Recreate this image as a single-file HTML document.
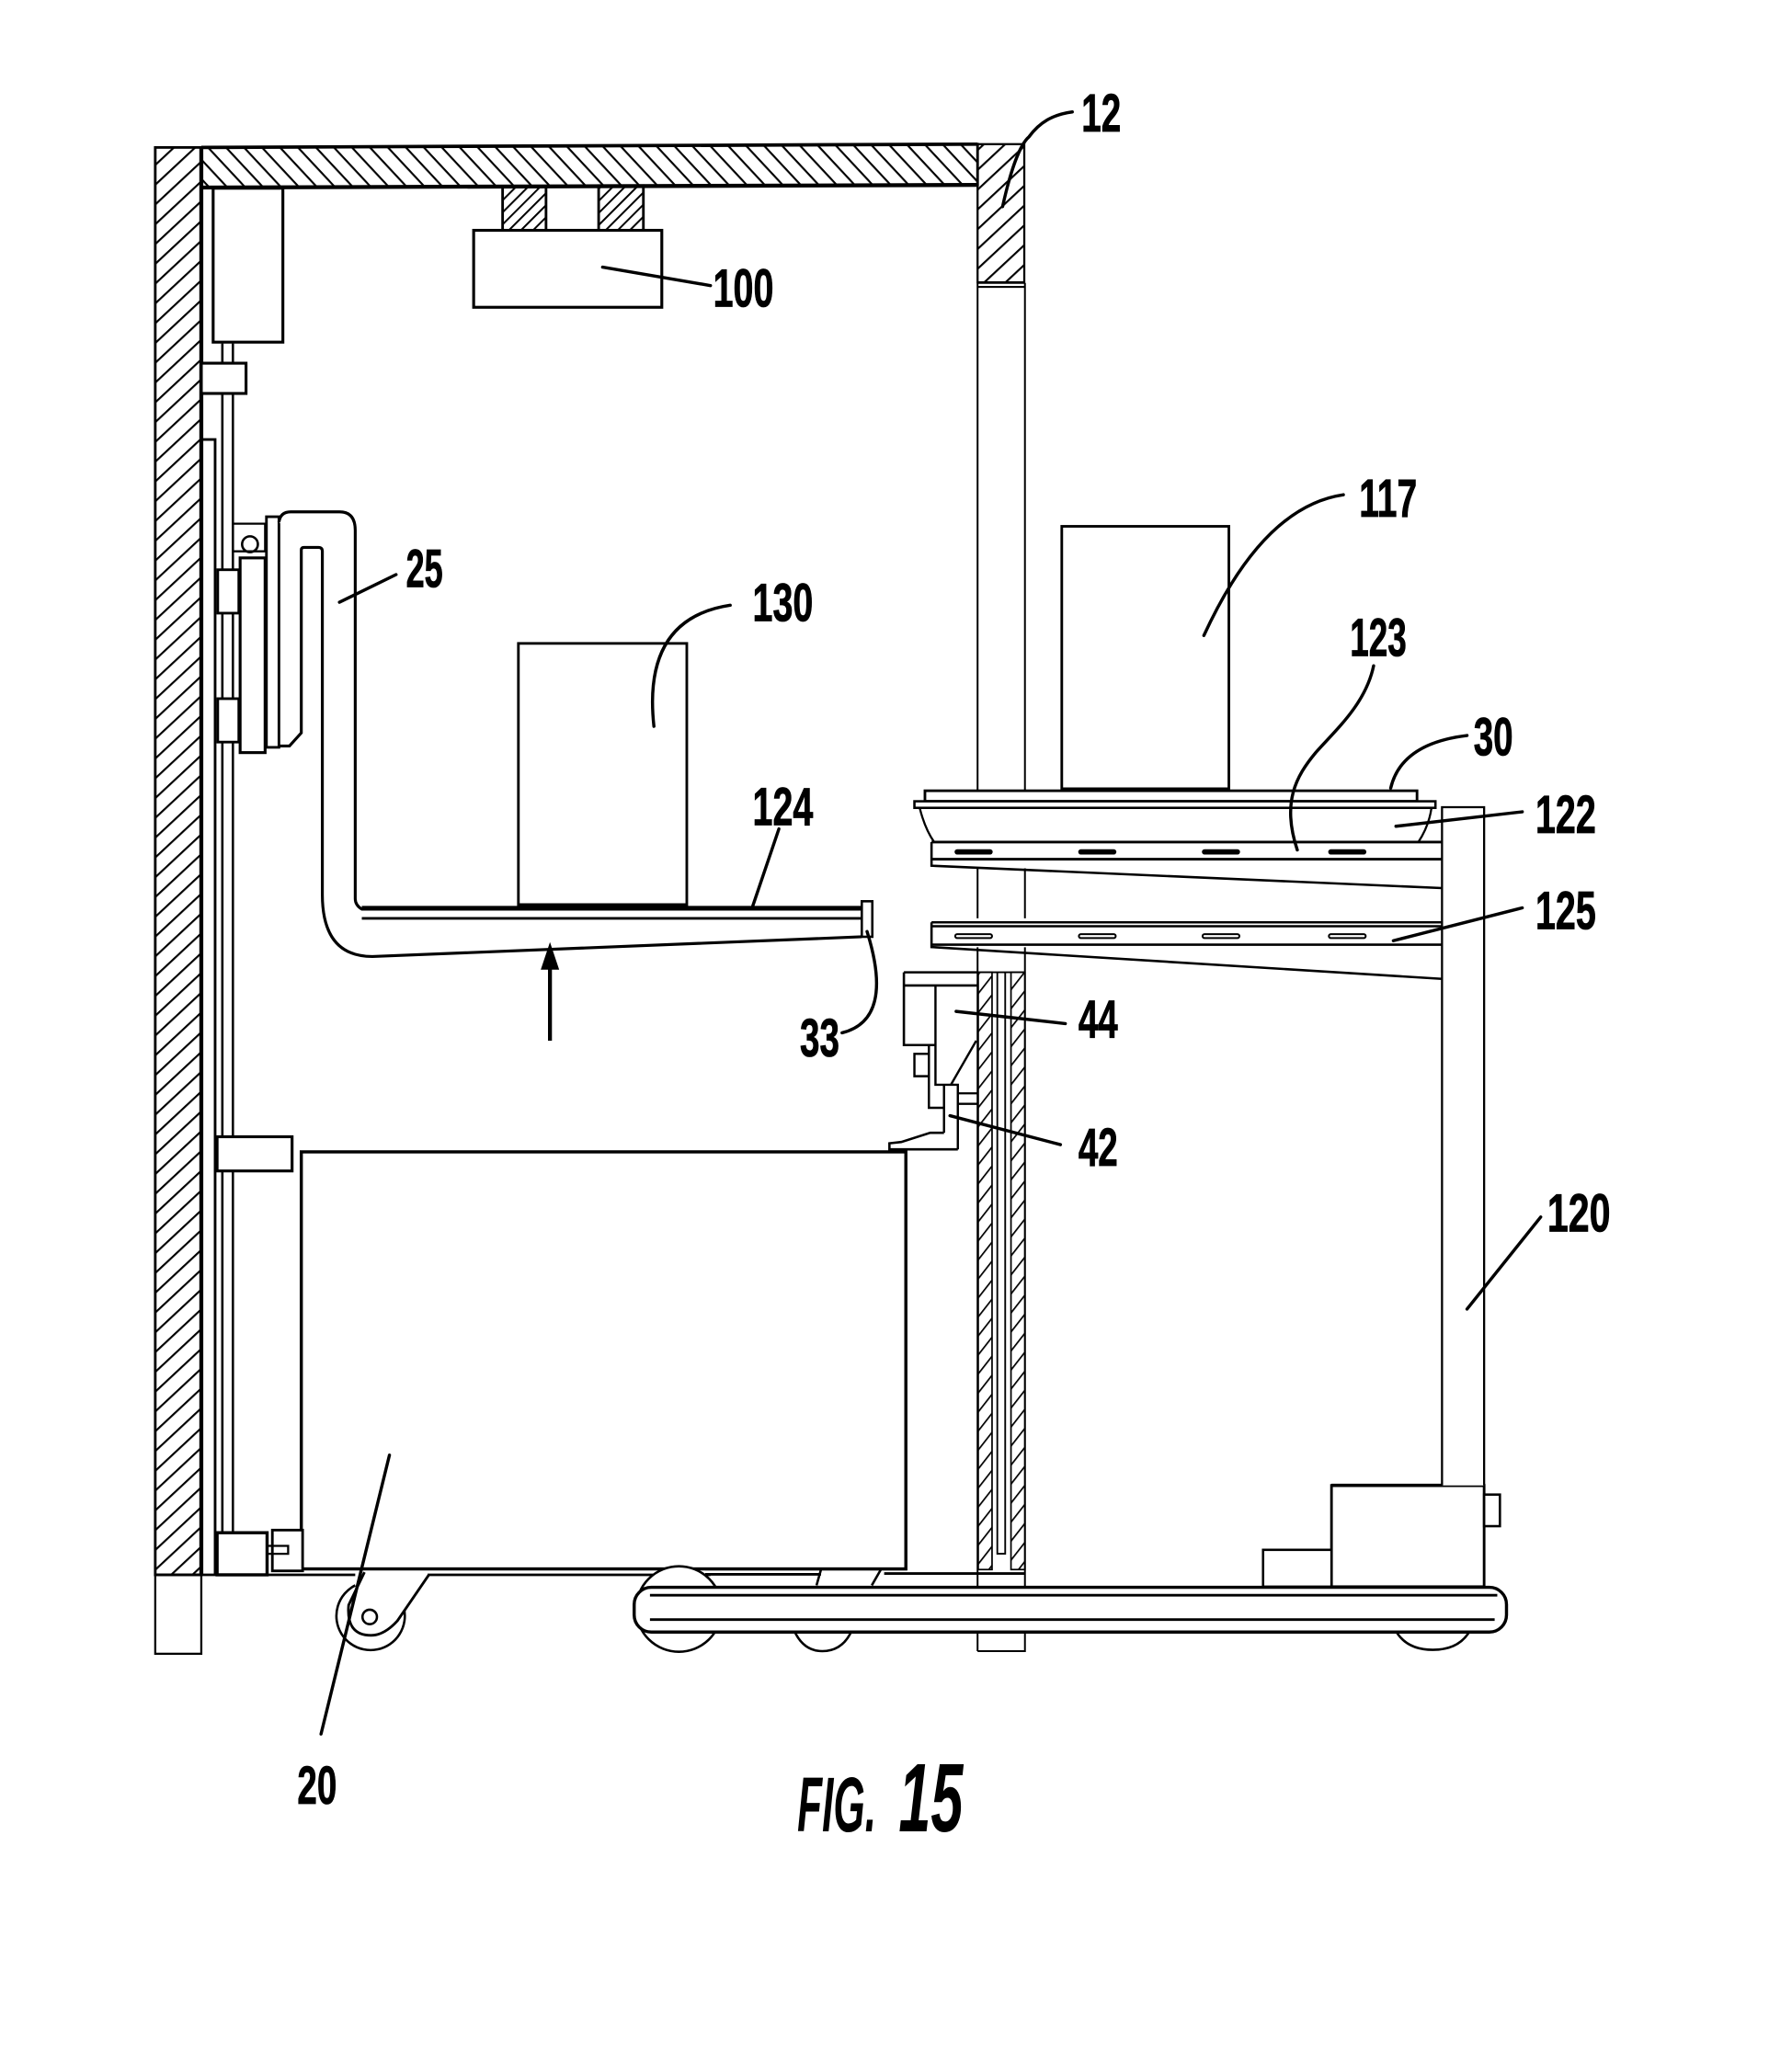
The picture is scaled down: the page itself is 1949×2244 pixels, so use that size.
<!DOCTYPE html>
<html><head><meta charset="utf-8"><title>FIG. 15</title>
<style>html,body{margin:0;padding:0;background:#fff}svg{display:block}
text{font-family:"Liberation Sans",sans-serif;font-weight:bold;fill:#000}</style></head>
<body>
<svg xmlns="http://www.w3.org/2000/svg" width="1949" height="2244" viewBox="0 0 1362 1568">
<defs>
<pattern id="h1" width="11" height="11" patternUnits="userSpaceOnUse" patternTransform="rotate(-43 118 112)"><rect width="11" height="1.5" fill="#000"/></pattern>
<pattern id="h2" width="10" height="10" patternUnits="userSpaceOnUse" patternTransform="rotate(47)"><rect width="10" height="1.5" fill="#000"/></pattern>
<pattern id="h3" width="6.5" height="6.5" patternUnits="userSpaceOnUse" patternTransform="rotate(-45)"><rect width="6.5" height="1.4" fill="#000"/></pattern>
<pattern id="h4" width="8.9" height="8.9" patternUnits="userSpaceOnUse" patternTransform="rotate(-52)"><rect width="8.9" height="1.2" fill="#000"/></pattern>
</defs>
<rect width="1362" height="1568" fill="#fff"/>
<g fill="none" stroke="#000" stroke-width="2">
<!-- walls -->
<rect x="118" y="112" width="35" height="1085" fill="url(#h1)"/>
<rect x="118" y="1197" width="35" height="60" stroke-width="1.6"/>
<path d="M153 112L743 109.5V140.5L153 142.5Z" fill="url(#h2)"/>
<path d="M153 142.5L743 140.5" stroke-width="3"/><path d="M153 112L743 109.5" stroke-width="2.6"/><path d="M153 112V1197" stroke-width="3"/>
<rect x="743" y="109.5" width="35.5" height="105" fill="url(#h1)" stroke-width="1.6"/>
<path d="M743 218H779M743 215H779" stroke-width="1.4"/>
<path d="M743 215V602M779 215V602M743 660V698M779 660V698M743 720V1255M779 720V1255H743" stroke-width="1.4"/>
<rect x="743.5" y="739" width="10.5" height="454" fill="url(#h4)" stroke-width="1.2"/>
<rect x="768.4" y="739" width="10.6" height="454" fill="url(#h4)" stroke-width="1.2"/>
<path d="M743 739H779M758 739V1181H764V739" stroke-width="1.3"/>
<!-- rails -->
<path d="M154 334H163.5V1197" stroke-width="2"/>
<path d="M169 261V276M177 261V276M169 299V1165M177 299V1165" stroke-width="1.8"/>
<!-- top block & brackets -->
<rect x="162" y="143" width="53" height="117" fill="#fff" stroke-width="2.2"/>
<rect x="153" y="276" width="34" height="23" fill="#fff" stroke-width="2.2"/>
<rect x="382" y="142" width="33" height="33" fill="url(#h3)"/>
<rect x="455" y="141" width="34" height="34" fill="url(#h3)"/>
<rect x="360" y="175" width="143" height="58.5" fill="#fff" stroke-width="2.2"/>
<!-- carriage -->
<rect x="165.5" y="433" width="16" height="33" fill="#fff"/>
<rect x="165.5" y="531" width="16" height="33" fill="#fff"/>
<path d="M177 419V398H201.5V419H177" stroke-width="1.6"/>
<circle cx="190" cy="413.6" r="6" stroke-width="1.8"/>
<rect x="182.5" y="424" width="19" height="148" fill="#fff" stroke-width="2.2"/>
<rect x="202.5" y="392.7" width="9.5" height="175.3" fill="#fff" stroke-width="2"/>
<!-- fork -->
<path d="M212 397Q213 389 221 389H258Q270 389 270 403V683Q270 688 275 691H655M212 567H220L229 557V418Q229 416 231 416H242Q245 416 245 419V680Q245 727 283 727L655 712" fill="#fff" stroke-width="2.2"/>
<path d="M275 689.5H658M275 698H658" stroke-width="2"/>
<rect x="655" y="685" width="8" height="27" fill="#fff" stroke-width="1.8"/>
<!-- boxes -->
<rect x="394" y="489" width="128" height="199" fill="#fff" stroke-width="2"/>
<rect x="807" y="400" width="127" height="200" fill="#fff" stroke-width="2"/>
<path d="M394 688H522M807 600H934" stroke-width="3"/>
<!-- arrow -->
<path d="M418 791V730" stroke-width="3"/>
<path d="M418 716L411 737H425Z" fill="#000" stroke="none"/>
<!-- lower block -->
<rect x="229" y="875.5" width="459.5" height="317" fill="#fff" stroke-width="2.4"/>
<rect x="165" y="864" width="57" height="26" fill="#fff" stroke-width="2.2"/>
<rect x="165" y="1165" width="38" height="32" fill="#fff" stroke-width="2.4"/>
<rect x="207" y="1163" width="23" height="31" fill="#fff" stroke-width="2"/>
<path d="M203 1175H219V1181H203" stroke-width="1.6"/>
<path d="M118 1197H270M325 1197H540" stroke-width="2"/>
<!-- caster -->
<path d="M270 1205A26 26 0 1 0 302 1212" stroke-width="1.8" fill="none"/>
<path d="M277 1195L265 1220Q263 1243 282 1243Q292 1243 302 1232L326 1197" fill="#fff" stroke-width="2"/>
<circle cx="281" cy="1229" r="5.5" stroke-width="1.8"/>
<!-- cart wheels -->
<circle cx="516" cy="1223" r="32.5" fill="#fff" stroke-width="1.8"/>
<path d="M603 1238Q610 1255 625 1255Q641 1255 648 1238M1060 1238Q1068 1254 1089 1254Q1110 1254 1118 1238" stroke-width="1.8"/>
<path d="M536 1192.6H689M536 1196.6H624M672 1196H779" stroke-width="2"/>
<path d="M624 1193L620.6 1205M669.5 1193L662.6 1205" stroke-width="1.8"/>
<!-- cart base -->
<rect x="482" y="1206.5" width="663" height="34" rx="13" fill="#fff" stroke-width="2.4"/>
<path d="M494 1212.5H1138M494 1231H1136" stroke-width="2"/>
<!-- cart column and units -->
<rect x="1012" y="1129" width="116" height="77" fill="#fff" stroke-width="2"/>
<path d="M1012 1129H1128" stroke-width="2.6"/>
<rect x="960" y="1178" width="52" height="28" fill="#fff" stroke-width="1.8"/>
<rect x="1128" y="1136" width="12" height="24" fill="#fff" stroke-width="1.8"/>
<path d="M1096 1129V613.5H1128V1129" fill="#fff" stroke-width="1.6"/>
<!-- tray -->
<rect x="703" y="601" width="374" height="8" fill="#fff" stroke-width="2"/>
<rect x="695" y="609" width="396" height="5" fill="#fff" stroke-width="1.8"/>
<path d="M699 614Q703 630 710 640M1088 614Q1086 628 1078 640" stroke-width="1.6"/>
<!-- shelves -->
<path d="M708 640H1096M708 653H1096" stroke-width="2"/>
<path d="M708 640V658L1096 675" stroke-width="1.8"/>
<path d="M708 701H1096M708 704H1096M708 718H1096" stroke-width="1.8"/>
<path d="M708 701V719.8L1096 744" stroke-width="1.8"/>
<g stroke-width="1.4">
<rect x="726" y="710" width="28" height="3" rx="1.5"/><rect x="820" y="710" width="28" height="3" rx="1.5"/><rect x="914" y="710" width="28" height="3" rx="1.5"/><rect x="1010" y="710" width="28" height="3" rx="1.5"/>
</g>
<g fill="#000" stroke-width="1">
<rect x="726" y="646" width="28" height="3" rx="1.5"/><rect x="820" y="646" width="28" height="3" rx="1.5"/><rect x="914" y="646" width="28" height="3" rx="1.5"/><rect x="1010" y="646" width="28" height="3" rx="1.5"/>
</g>
<!-- device 44/42 -->
<path d="M687 739H743M687 749H743M687 739V794.3H711" fill="#fff" stroke-width="1.8"/>
<path d="M711 749V824.5H728V873.6M717.5 824.5V861M706 794V842H717.5M706 801H695V818H706M723 824L742 791" stroke-width="1.7"/>
<path d="M728 831H743.5M728 839H743.5" stroke-width="1.6"/>
<path d="M717.5 861H707L685 868L676 869V873.6H728" fill="#fff" stroke-width="1.8"/>
<!-- leaders -->
<g stroke-width="2.4" stroke-linecap="round">
<path d="M762 157C768 130 775 110 782 104C790 93 800 87 815 85"/>
<path d="M458 203L540 217"/>
<path d="M258 457.7L301 436.7"/>
<path d="M915 483Q960 385 1021 376"/>
<path d="M497 552Q488 470 555 460"/>
<path d="M986 646C974 610 985 590 1000 572C1015 555 1038 535 1044 506"/>
<path d="M1057 599Q1065 565 1115 559"/>
<path d="M1061 628L1157 617"/>
<path d="M1059 715L1157 690"/>
<path d="M572 689L592 630"/>
<path d="M659 708Q680 775 640 785"/>
<path d="M726.7 768.7L809.7 778"/>
<path d="M722 848L806 870"/>
<path d="M1115 995L1171 925"/>
<path d="M296 1106L244 1318"/>
</g>
</g>
<!-- labels -->
<g font-size="41" stroke="#000" stroke-width=".6">
<text x="822" y="100" textLength="30" lengthAdjust="spacingAndGlyphs">12</text>
<text x="542" y="233" textLength="46" lengthAdjust="spacingAndGlyphs">100</text>
<text x="308.6" y="446" textLength="28" lengthAdjust="spacingAndGlyphs">25</text>
<text x="1033" y="392.5" textLength="44" lengthAdjust="spacingAndGlyphs">117</text>
<text x="572" y="472" textLength="46" lengthAdjust="spacingAndGlyphs">130</text>
<text x="1026" y="498.4" textLength="43" lengthAdjust="spacingAndGlyphs">123</text>
<text x="1120" y="574" textLength="30" lengthAdjust="spacingAndGlyphs">30</text>
<text x="1167" y="633" textLength="46" lengthAdjust="spacingAndGlyphs">122</text>
<text x="1167" y="706" textLength="46" lengthAdjust="spacingAndGlyphs">125</text>
<text x="572" y="627" textLength="46" lengthAdjust="spacingAndGlyphs">124</text>
<text x="819.6" y="788.6" textLength="30" lengthAdjust="spacingAndGlyphs">44</text>
<text x="819.6" y="886" textLength="30" lengthAdjust="spacingAndGlyphs">42</text>
<text x="608" y="803" textLength="30" lengthAdjust="spacingAndGlyphs">33</text>
<text x="1176" y="936" textLength="48" lengthAdjust="spacingAndGlyphs">120</text>
<text x="226" y="1371" textLength="30" lengthAdjust="spacingAndGlyphs">20</text>
</g>
<text x="606" y="1392" font-size="59" font-style="italic" textLength="60" lengthAdjust="spacingAndGlyphs">FIG.</text>
<text x="683" y="1392" font-size="74" font-style="italic" textLength="49" lengthAdjust="spacingAndGlyphs">15</text>
</svg>
</body></html>
